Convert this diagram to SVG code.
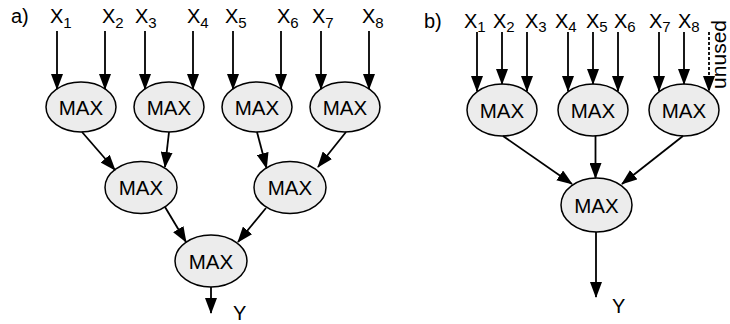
<svg xmlns="http://www.w3.org/2000/svg" width="730" height="324" viewBox="0 0 730 324">
<defs>
<marker id="ah" markerUnits="userSpaceOnUse" markerWidth="16" markerHeight="12" refX="15" refY="6" orient="auto">
<path d="M0,0 L16,6 L0,12 z" fill="#000"/>
</marker>
<style>
text{font-family:"Liberation Sans",Arial,sans-serif;fill:#000}
.lbl{font-size:20px}
.sub{font-size:15px}
.node ellipse{fill:#ececec;stroke:#000;stroke-width:1.5}
.node text{font-size:20.5px;text-anchor:middle}
.conn line{stroke:#000;stroke-width:1.8;marker-end:url(#ah)}
.conn line.dash{stroke-dasharray:3 2}
</style>
</defs>
<rect width="730" height="324" fill="#fff"/>

<g id="labels">
<text class="lbl" x="11" y="23">a)</text>
<text class="lbl" x="50" y="23">X<tspan class="sub" dy="4.5">1</tspan></text>
<text class="lbl" x="102" y="23">X<tspan class="sub" dy="4.5">2</tspan></text>
<text class="lbl" x="135" y="23">X<tspan class="sub" dy="4.5">3</tspan></text>
<text class="lbl" x="187" y="23">X<tspan class="sub" dy="4.5">4</tspan></text>
<text class="lbl" x="225" y="23">X<tspan class="sub" dy="4.5">5</tspan></text>
<text class="lbl" x="277" y="23">X<tspan class="sub" dy="4.5">6</tspan></text>
<text class="lbl" x="312" y="23">X<tspan class="sub" dy="4.5">7</tspan></text>
<text class="lbl" x="362" y="23">X<tspan class="sub" dy="4.5">8</tspan></text>
<text class="lbl" x="233" y="320">Y</text>

<text class="lbl" x="424" y="28">b)</text>
<text class="lbl" x="464" y="27.5">X<tspan class="sub" dy="4.5">1</tspan></text>
<text class="lbl" x="493" y="27.5">X<tspan class="sub" dy="4.5">2</tspan></text>
<text class="lbl" x="525" y="27.5">X<tspan class="sub" dy="4.5">3</tspan></text>
<text class="lbl" x="555" y="27.5">X<tspan class="sub" dy="4.5">4</tspan></text>
<text class="lbl" x="586" y="27.5">X<tspan class="sub" dy="4.5">5</tspan></text>
<text class="lbl" x="614" y="27.5">X<tspan class="sub" dy="4.5">6</tspan></text>
<text class="lbl" x="649" y="27.5">X<tspan class="sub" dy="4.5">7</tspan></text>
<text class="lbl" x="678" y="27.5">X<tspan class="sub" dy="4.5">8</tspan></text>
<text class="lbl" x="612" y="313">Y</text>
<text class="lbl" transform="translate(726,20) rotate(-90)" text-anchor="end" style="font-size:21px">unused</text>
</g>

<g id="a-n1" class="node"><ellipse cx="81" cy="107" rx="35" ry="25"/><text x="81" y="114.5">MAX</text></g>
<g id="a-n2" class="node"><ellipse cx="169" cy="107" rx="35" ry="25"/><text x="169" y="114.5">MAX</text></g>
<g id="a-n3" class="node"><ellipse cx="257" cy="107" rx="35" ry="25"/><text x="257" y="114.5">MAX</text></g>
<g id="a-n4" class="node"><ellipse cx="345" cy="107" rx="35" ry="25"/><text x="345" y="114.5">MAX</text></g>
<g id="a-m1" class="node"><ellipse cx="141" cy="187.5" rx="36" ry="26"/><text x="141" y="195">MAX</text></g>
<g id="a-m2" class="node"><ellipse cx="290" cy="187.5" rx="36" ry="26"/><text x="290" y="195">MAX</text></g>
<g id="a-out" class="node"><ellipse cx="211" cy="261" rx="36" ry="26"/><text x="211" y="268.5">MAX</text></g>

<g id="b-n1" class="node"><ellipse cx="502" cy="110" rx="35" ry="26"/><text x="502" y="117.5">MAX</text></g>
<g id="b-n2" class="node"><ellipse cx="593" cy="110" rx="35" ry="26"/><text x="593" y="117.5">MAX</text></g>
<g id="b-n3" class="node"><ellipse cx="684" cy="110" rx="35" ry="26"/><text x="684" y="117.5">MAX</text></g>
<g id="b-out" class="node"><ellipse cx="596.5" cy="205" rx="35.5" ry="27"/><text x="596.5" y="212.5">MAX</text></g>

<g id="connectors" class="conn">
<line x1="57" y1="31" x2="57" y2="89"/>
<line x1="105" y1="31" x2="105" y2="89"/>
<line x1="145" y1="31" x2="145" y2="89"/>
<line x1="193" y1="31" x2="193" y2="89"/>
<line x1="233" y1="31" x2="233" y2="89"/>
<line x1="281" y1="31" x2="281" y2="89"/>
<line x1="321" y1="31" x2="321" y2="89"/>
<line x1="369" y1="31" x2="369" y2="89"/>
<line x1="82" y1="132" x2="115" y2="170"/>
<line x1="169" y1="132" x2="165" y2="167"/>
<line x1="257" y1="132" x2="266.5" y2="168"/>
<line x1="346" y1="132" x2="318" y2="167"/>
<line x1="165" y1="207" x2="186" y2="242"/>
<line x1="266" y1="208" x2="238" y2="242"/>
<line x1="211" y1="287" x2="211" y2="313"/>

<line x1="477" y1="32" x2="477" y2="91"/>
<line x1="502" y1="32" x2="502" y2="84"/>
<line x1="527" y1="32" x2="527" y2="91"/>
<line x1="568" y1="32" x2="568" y2="91"/>
<line x1="593" y1="32" x2="593" y2="84"/>
<line x1="618" y1="32" x2="618" y2="91"/>
<line x1="659" y1="32" x2="659" y2="91"/>
<line x1="684" y1="32" x2="684" y2="84"/>
<line class="dash" x1="709" y1="32" x2="709" y2="91"/>
<line x1="503" y1="136" x2="572" y2="184"/>
<line x1="595.5" y1="136" x2="595.5" y2="178"/>
<line x1="683" y1="136" x2="622" y2="184"/>
<line x1="596" y1="232" x2="596" y2="297"/>
</g>
</svg>
